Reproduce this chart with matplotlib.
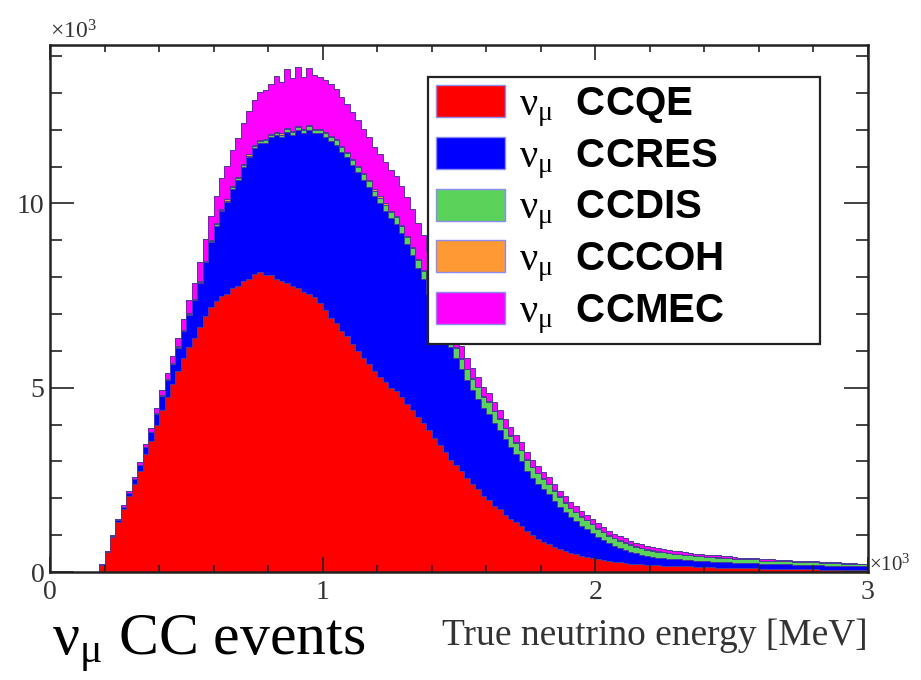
import numpy as np
import matplotlib
matplotlib.use("Agg")
import matplotlib.pyplot as plt
from matplotlib.patches import Patch
from matplotlib.ticker import MultipleLocator

plt.rcParams['mathtext.fontset'] = 'custom'
plt.rcParams['mathtext.rm'] = 'Liberation Serif'
plt.rcParams['mathtext.it'] = 'Liberation Serif:italic'

# energy bins (x10^3 MeV), 150 bins of 0.02
edges = np.linspace(0, 3, 151)

# events per bin (x10^3)
qe = [0, 0, 0, 0, 0, 0, 0, 0, 0, 0.2,
      0.55, 0.95, 1.35, 1.7, 2.05, 2.4, 2.75, 3.2, 3.55, 4.0,
      4.4, 4.75, 5.1, 5.45, 5.8, 6.1, 6.35, 6.65, 6.95, 7.2,
      7.35, 7.5, 7.55, 7.7, 7.75, 7.9, 7.95, 8.1, 8.15, 8.05,
      8.05, 7.95, 7.9, 7.85, 7.75, 7.7, 7.6, 7.55, 7.45, 7.3,
      7.1, 6.9, 6.75, 6.55, 6.4, 6.2, 6.0, 5.8, 5.65, 5.45,
      5.3, 5.15, 5.0, 4.9, 4.75, 4.55, 4.4, 4.2, 4.05, 3.85,
      3.65, 3.45, 3.25, 3.05, 2.9, 2.75, 2.55, 2.4, 2.25, 2.05,
      1.95, 1.8, 1.7, 1.55, 1.45, 1.35, 1.25, 1.1, 1.0, 0.9,
      0.82, 0.76, 0.68, 0.62, 0.57, 0.52, 0.48, 0.44, 0.41, 0.38,
      0.35, 0.32, 0.3, 0.28, 0.26, 0.25, 0.23, 0.22, 0.21, 0.2,
      0.19, 0.18, 0.17, 0.17, 0.16, 0.16, 0.15, 0.15, 0.14, 0.14,
      0.13, 0.13, 0.12, 0.12, 0.12, 0.11, 0.11, 0.1, 0.1, 0.1,
      0.09, 0.09, 0.09, 0.08, 0.08, 0.08, 0.08, 0.07, 0.07, 0.07,
      0.07, 0.06, 0.06, 0.06, 0.06, 0.05, 0.05, 0.05, 0.05, 0.05]

res = [0, 0, 0, 0, 0, 0, 0, 0, 0, 0.01,
       0.02, 0.03, 0.05, 0.07, 0.09, 0.12, 0.15, 0.19, 0.24, 0.3,
       0.37, 0.45, 0.54, 0.64, 0.75, 0.88, 1.02, 1.2, 1.45, 1.75,
       2.05, 2.3, 2.5, 2.7, 2.9, 3.1, 3.3, 3.4, 3.5, 3.6,
       3.75, 3.9, 3.9, 4.1, 4.1, 4.3, 4.3, 4.45, 4.45, 4.6,
       4.7, 4.8, 4.85, 4.85, 4.85, 4.85, 4.85, 4.85, 4.8, 4.75,
       4.7, 4.65, 4.6, 4.55, 4.45, 4.35, 4.2, 4.05, 3.9, 3.7,
       3.5, 3.35, 3.2, 3.05, 2.9, 2.75, 2.65, 2.55, 2.45, 2.4,
       2.35, 2.25, 2.15, 2.05, 1.95, 1.85, 1.75, 1.65, 1.55, 1.5,
       1.42, 1.35, 1.25, 1.15, 1.05, 0.97, 0.9, 0.82, 0.75, 0.68,
       0.6, 0.54, 0.48, 0.43, 0.39, 0.35, 0.32, 0.29, 0.26, 0.24,
       0.22, 0.21, 0.2, 0.19, 0.18, 0.18, 0.17, 0.17, 0.16, 0.16,
       0.16, 0.15, 0.15, 0.15, 0.15, 0.14, 0.14, 0.14, 0.14, 0.14,
       0.13, 0.13, 0.13, 0.13, 0.13, 0.13, 0.12, 0.12, 0.12, 0.12,
       0.12, 0.12, 0.11, 0.11, 0.11, 0.11, 0.11, 0.1, 0.1, 0.1]

dis = [0, 0, 0, 0, 0, 0, 0, 0, 0, 0,
       0, 0, 0, 0, 0, 0, 0, 0, 0, 0,
       0.01, 0.01, 0.01, 0.01, 0.01, 0.01, 0.01, 0.02, 0.02, 0.02,
       0.03, 0.03, 0.03, 0.04, 0.04, 0.04, 0.05, 0.05, 0.05, 0.06,
       0.06, 0.07, 0.07, 0.08, 0.08, 0.08, 0.09, 0.09, 0.1, 0.1,
       0.11, 0.11, 0.12, 0.12, 0.13, 0.13, 0.14, 0.14, 0.15, 0.15,
       0.16, 0.17, 0.17, 0.18, 0.19, 0.2, 0.2, 0.21, 0.22, 0.23,
       0.24, 0.25, 0.26, 0.27, 0.28, 0.29, 0.3, 0.3, 0.31, 0.31,
       0.31, 0.31, 0.31, 0.3, 0.3, 0.3, 0.3, 0.29, 0.29, 0.28,
       0.28, 0.27, 0.27, 0.26, 0.26, 0.25, 0.25, 0.24, 0.24, 0.23,
       0.23, 0.22, 0.21, 0.21, 0.2, 0.2, 0.19, 0.18, 0.18, 0.17,
       0.17, 0.16, 0.16, 0.15, 0.15, 0.14, 0.14, 0.13, 0.13, 0.13,
       0.12, 0.12, 0.12, 0.11, 0.11, 0.11, 0.1, 0.1, 0.1, 0.1,
       0.09, 0.09, 0.09, 0.09, 0.09, 0.08, 0.08, 0.08, 0.08, 0.08,
       0.08, 0.07, 0.07, 0.07, 0.07, 0.07, 0.07, 0.07, 0.06, 0.06]

coh = [0, 0, 0, 0, 0, 0, 0, 0, 0, 0,
       0, 0, 0, 0, 0, 0.01, 0.01, 0.01, 0.01, 0.02,
       0.02, 0.02, 0.02, 0.02, 0.02, 0.03, 0.03, 0.03, 0.03, 0.03,
       0.03, 0.03, 0.03, 0.03, 0.03, 0.03, 0.03, 0.03, 0.03, 0.03,
       0.03, 0.03, 0.03, 0.03, 0.03, 0.03, 0.03, 0.03, 0.03, 0.03,
       0.03, 0.03, 0.03, 0.03, 0.03, 0.03, 0.03, 0.03, 0.03, 0.03,
       0.03, 0.03, 0.03, 0.03, 0.03, 0.03, 0.03, 0.03, 0.03, 0.03,
       0.03, 0.03, 0.03, 0.03, 0.03, 0.03, 0.02, 0.02, 0.02, 0.02,
       0.02, 0.02, 0.02, 0.02, 0.02, 0.02, 0.02, 0.02, 0.02, 0.02,
       0.02, 0.02, 0.02, 0.02, 0.02, 0.01, 0.01, 0.01, 0.01, 0.01,
       0.01, 0.01, 0.01, 0.01, 0.01, 0.01, 0.01, 0.01, 0.01, 0.01,
       0.01, 0.01, 0.01, 0.01, 0.01, 0.01, 0.01, 0.01, 0.01, 0.01,
       0.01, 0.01, 0.01, 0.01, 0.01, 0, 0, 0, 0, 0,
       0, 0, 0, 0, 0, 0, 0, 0, 0, 0,
       0, 0, 0, 0, 0, 0, 0, 0, 0, 0]

mec = [0, 0, 0, 0, 0, 0, 0, 0, 0, 0,
       0.01, 0.02, 0.03, 0.04, 0.05, 0.06, 0.07, 0.08, 0.1, 0.12,
       0.14, 0.17, 0.2, 0.24, 0.29, 0.35, 0.42, 0.5, 0.58, 0.66,
       0.75, 0.83, 0.9, 0.98, 1.05, 1.12, 1.18, 1.24, 1.3, 1.35,
       1.35, 1.5, 1.4, 1.6, 1.45, 1.6, 1.4, 1.55, 1.45, 1.4,
       1.42, 1.39, 1.36, 1.33, 1.3, 1.27, 1.24, 1.21, 1.18, 1.16,
       1.14, 1.12, 1.1, 1.08, 1.06, 1.04, 1.02, 0.99, 0.95, 0.9,
       0.8, 0.68, 0.55, 0.44, 0.36, 0.3, 0.28, 0.27, 0.26, 0.25,
       0.24, 0.23, 0.22, 0.22, 0.21, 0.2, 0.2, 0.19, 0.19, 0.18,
       0.18, 0.17, 0.17, 0.16, 0.16, 0.15, 0.15, 0.14, 0.14, 0.13,
       0.13, 0.12, 0.12, 0.11, 0.11, 0.1, 0.1, 0.09, 0.09, 0.09,
       0.08, 0.08, 0.08, 0.07, 0.07, 0.07, 0.06, 0.06, 0.06, 0.06,
       0.05, 0.05, 0.05, 0.05, 0.04, 0.04, 0.04, 0.04, 0.04, 0.03,
       0.03, 0.03, 0.03, 0.03, 0.03, 0.03, 0.02, 0.02, 0.02, 0.02,
       0.02, 0.02, 0.02, 0.02, 0.02, 0.02, 0.02, 0.02, 0.02, 0.02]

labels = ['CCQE', 'CCRES', 'CCDIS', 'CCCOH', 'CCMEC']
colors = ['#ff0000', '#0000ff', '#5bd35b', '#ff9933', '#ff00ff']
edge_col = '#4a3c9c'
numu = r'$\mathrm{ν_{μ}}$'

fig = plt.figure(figsize=(9.21, 6.8), dpi=100)
ax = fig.add_axes([0.0543, 0.1588, 0.888, 0.775])

bottom = np.zeros(len(qe))
for vals, col in zip([qe, res, dis, coh, mec], colors):
    top = bottom + np.array(vals)
    ax.stairs(top, edges, baseline=bottom, fill=True, color=col, lw=0)
    bottom = top

bottom = np.zeros(len(qe))
for vals in [qe, res, dis, coh, mec]:
    top = bottom + np.array(vals)
    ax.stairs(top, edges, baseline=None, color=edge_col, lw=0.7)
    bottom = top

ax.set_xlim(0, 3)
ax.set_ylim(0, 14.3)
ax.xaxis.set_major_locator(MultipleLocator(1))
ax.xaxis.set_minor_locator(MultipleLocator(0.2))
ax.yaxis.set_major_locator(MultipleLocator(5))
ax.yaxis.set_minor_locator(MultipleLocator(1))
ax.tick_params(axis='both', which='both', direction='in', top=True, right=True,
               width=1.2, color='#222222')
ax.tick_params(axis='x', which='major', length=11, pad=6)
ax.tick_params(axis='x', which='minor', length=5)
ax.tick_params(axis='y', which='major', length=17, pad=4)
ax.tick_params(axis='y', which='minor', length=8.5)
for lab in ax.get_xticklabels() + ax.get_yticklabels():
    lab.set_fontfamily('Liberation Serif')
    lab.set_fontsize(20)
    lab.set_color('#333333')
for sp in ax.spines.values():
    sp.set_linewidth(1.8)
    sp.set_color('#222222')

ax.text(0, 1.003, r'$\times\mathrm{10^{3}}$', transform=ax.transAxes, fontsize=17,
        color='#333333', ha='left', va='bottom')
ax.text(1.002, 0.015, r'$\times\mathrm{10^{3}}$', transform=ax.transAxes, fontsize=15,
        color='#333333', ha='left', va='center')

fig.text(0.9425, 0.065, 'True neutrino energy [MeV]', family='Liberation Serif',
         fontsize=27, color='#333333', ha='right', va='center')
fig.text(0.056, 0.037, numu + ' CC events', family='Liberation Serif',
         fontsize=43, ha='left', va='baseline')

handles = [Patch(facecolor=c, edgecolor='#8c8cf0', lw=1) for c in colors]
leg_labels = [numu + '  ' + s for s in labels]
leg = ax.legend(handles, leg_labels, loc='upper left', mode='expand',
                bbox_to_anchor=(428 / 921, 1 - 345 / 680, 392 / 921, 268 / 680),
                bbox_transform=fig.transFigure,
                prop={'family': 'Liberation Sans', 'weight': 'bold', 'size': 29},
                frameon=True, fancybox=False, framealpha=1, edgecolor='#222222',
                handlelength=1.7, handleheight=0.85, labelspacing=0.2,
                handletextpad=0.35, borderpad=0.2, borderaxespad=0)
leg.get_frame().set_linewidth(1.6)

fig.savefig('out.png', dpi=100)
